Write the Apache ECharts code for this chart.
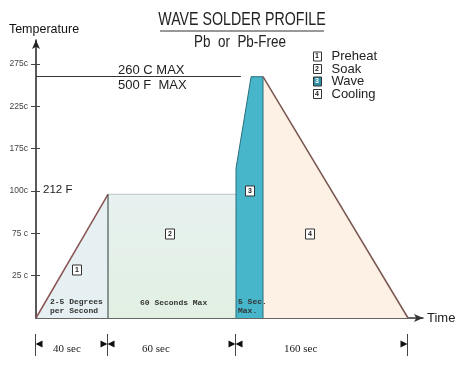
<!DOCTYPE html>
<html><head><meta charset="utf-8">
<script src="https://cdn.jsdelivr.net/npm/echarts@6/dist/echarts.min.js"></script>
<style>html,body{margin:0;padding:0;background:#fff}#c{width:470px;height:365px}</style>
</head><body><div id="c"></div>
<script>
// ---- data ----
const yTickTemps = [0, 25, 75, 100, 175, 225, 275];
const yTickLabels = ['', '25 c', '75 c', '100c', '175c', '225c', '275c'];
const stageNames = ['Preheat', 'Soak', 'Wave', 'Cooling'];
const preheatTime = [0, 40];
const preheatTemp = [0, 98];
const soakTime = [40, 100];
const soakTemp = [98, 98];
const waveTime = [100, 100, 102.8, 105, 105];
const waveTemp = [0, 140, 260, 260, 0];
const coolTime = [105, 260];
const coolTemp = [260, 0];
const maxTemp = 260;
const maxArrowEndTime = 100.9;
const segmentBounds = [0, 40, 100, 260];
const segmentLabels = ['40 sec', '60 sec', '160 sec'];
// the drawing is not to time scale: piecewise time -> axis units
const xBreakTime = [0, 40, 100, 105, 260];
const xBreakUnit = [0, 72, 200, 227, 372];

function interp(v, xs, ys) {
  for (let i = 1; i < xs.length; i++) {
    if (v <= xs[i]) {
      const t = (v - xs[i - 1]) / (xs[i] - xs[i - 1]);
      return ys[i - 1] + t * (ys[i] - ys[i - 1]);
    }
  }
  return ys[ys.length - 1];
}
const tickIdx = yTickTemps.map((_, i) => i);
const X = t => interp(t, xBreakTime, xBreakUnit);
const Y = c => interp(c, yTickTemps, tickIdx);
const pts = (ts, cs) => ts.map((t, i) => [X(t), Y(cs[i])]);

const chart = echarts.init(document.getElementById('c'));
const F = 'Liberation Sans, Arial, sans-serif';
const lineSeries = (name, data, lineColor, lineWidth, area) => ({
  name, type: 'line', data, symbol: 'none', silent: true,
  lineStyle: { color: lineColor, width: lineWidth },
  itemStyle: { color: lineColor },
  areaStyle: area ? { color: area, opacity: 1 } : undefined,
  z: 2
});

chart.setOption({
  animation: false,
  grid: { left: 36, right: 47, top: 40, bottom: 47 },
  xAxis: {
    type: 'value', min: 0, max: 387,
    splitLine: { show: false }, axisTick: { show: false }, axisLabel: { show: false },
    axisLine: { lineStyle: { color: '#333', width: 1.5 }, symbol: ['none', 'arrow'], symbolSize: [6, 9] },
    name: 'Time', nameLocation: 'end', nameGap: 4,
    nameTextStyle: { fontFamily: F, fontSize: 13, color: '#222', padding: [0, 0, 4, 0] }
  },
  yAxis: [{
    type: 'value', min: 0, max: 6.567, interval: 1,
    splitLine: { show: false },
    axisLine: { lineStyle: { color: '#222', width: 1.5 }, symbol: ['none', 'arrow'], symbolSize: [6, 9] },
    axisTick: { length: 5, lineStyle: { color: '#444' }, customValues: [1, 2, 3, 4, 5, 6] },
    axisLabel: { margin: 8, fontFamily: F, fontSize: 8.5, color: '#444',
      customValues: [1, 2, 3, 4, 5, 6], formatter: v => yTickLabels[Math.round(v)] },
    name: 'Temperature', nameLocation: 'end', nameGap: 4,
    nameTextStyle: { fontFamily: F, fontSize: 12.5, color: '#111', align: 'center', padding: [0, 0, 0, 16] }
  }, {
    type: 'value', min: 0, max: 6.567, interval: 1, position: 'left',
    splitLine: { show: false }, axisLine: { show: false }, axisLabel: { show: false },
    axisTick: { inside: true, length: 4, lineStyle: { color: '#444' }, customValues: [1, 2, 3, 4, 5, 6] }
  }],
  legend: {
    orient: 'vertical', left: 308, top: 45, itemWidth: 8, itemHeight: 9, itemGap: -0.5,
    selectedMode: false, icon: 'rect',
    textStyle: { fontFamily: F, fontSize: 13, color: '#222', padding: [0, 0, 0, 5] },
    data: [
      { name: stageNames[0], itemStyle: { color: '#fff', borderColor: '#333', borderWidth: 1 } },
      { name: stageNames[1], itemStyle: { color: '#fff', borderColor: '#333', borderWidth: 1 } },
      { name: stageNames[2], itemStyle: { color: '#2f8fa6', borderColor: '#333', borderWidth: 1 } },
      { name: stageNames[3], itemStyle: { color: '#fff', borderColor: '#333', borderWidth: 1 } }
    ]
  },
  series: [
    lineSeries(stageNames[0], pts(preheatTime, preheatTemp), '#8a5454', 1.5, '#e6f0f2'),
    lineSeries(stageNames[1], pts(soakTime, soakTemp), '#c5cfcc', 1.2,
      new echarts.graphic.LinearGradient(0, 0, 0, 1, [{ offset: 0, color: '#e7f1f0' }, { offset: 1, color: '#e2f0e2' }])),
    lineSeries(stageNames[2], pts(waveTime, waveTemp), '#2b6f7c', 1, '#47b6ca'),
    lineSeries(stageNames[3], pts(coolTime, coolTemp), '#7a5650', 1.5, '#fdf0e4'),
    lineSeries('sep', pts([soakTime[0], soakTime[0]], [0, soakTemp[0]]), '#2f3b3b', 1, null),
    {
      name: 'max', type: 'line', data: [], silent: true,
      markLine: {
        silent: true, symbol: ['none', 'arrow'], symbolSize: [0, 8], label: { show: false },
        lineStyle: { color: '#333', width: 1, type: 'solid' },
        data: [[{ coord: [X(0), Y(maxTemp)] }, { coord: [X(maxArrowEndTime), Y(maxTemp)] }]]
      }
    }
  ]
});

// ---- annotations ----
const g = [];
const txt = (x, y, text, font, color, align, extra) => Object.assign({
  type: 'text', x, y, z: 10,
  style: { text, x: 0, y: 0, font, fill: color || '#222', textAlign: align || 'left', textVerticalAlign: 'middle' }
}, extra || {});
g.push(txt(242, 20, 'WAVE SOLDER PROFILE', '18px ' + F, '#222', 'center', { scaleX: 0.79 }));
g.push({ type: 'line', z: 10, shape: { x1: 160, y1: 31, x2: 324, y2: 31 }, style: { stroke: '#333', lineWidth: 1 } });
g.push(txt(240, 42, 'Pb  or  Pb-Free', '17px ' + F, '#222', 'center', { scaleX: 0.79 }));
g.push(txt(118, 70, '260 C MAX', '13px ' + F, '#222'));
g.push(txt(118, 85, '500 F  MAX', '13px ' + F, '#222'));
g.push(txt(43, 190, '212 F', '11.5px ' + F, '#222'));
const box = (cx, cy, d, fill) => {
  g.push({ type: 'rect', z: 11, shape: { x: cx - 4.5, y: cy - 5, width: 9, height: 10 }, style: { fill: fill || '#fff', stroke: '#333', lineWidth: 1 } });
  g.push(txt(cx, cy + 0.5, d, 'bold 7px ' + F, '#222', 'center', { z: 12 }));
};
[56, 68.5, 81, 93.5].forEach((y, i) => g.push(txt(317, y + 0.5, String(i + 1), 'bold 7px ' + F, i === 2 ? '#fff' : '#222', 'center', { z: 12 })));
box(77, 270, '1'); box(170, 234, '2'); box(250, 191, '3'); box(310, 234, '4');
const M = 'bold 8px Liberation Mono, Courier New, monospace';
g.push(txt(50, 302, '2-5 Degrees', M, '#333'));
g.push(txt(50, 311, 'per Second', M, '#333'));
g.push(txt(140, 303, '60 Seconds Max', M, '#333'));
g.push(txt(238, 302, '5 Sec.', M, '#333'));
g.push(txt(238, 311, 'Max.', M, '#333'));

// bottom segment markers, placed from the data scale
const by = 344;
segmentBounds.forEach((t, i) => {
  const px = Math.round(chart.convertToPixel({ xAxisIndex: 0 }, X(t))) - 0.5;
  g.push({ type: 'line', z: 10, shape: { x1: px, y1: 334, x2: px, y2: 356 }, style: { stroke: '#444', lineWidth: 1 } });
  if (i > 0) g.push({ type: 'polygon', z: 10, shape: { points: [[px - 7, by - 3.5], [px, by], [px - 7, by + 3.5]] }, style: { fill: '#111' } });
  if (i < segmentBounds.length - 1) g.push({ type: 'polygon', z: 10, shape: { points: [[px + 7, by - 3.5], [px, by], [px + 7, by + 3.5]] }, style: { fill: '#111' } });
});
const SF = '11px Liberation Serif, Times New Roman, serif';
[53, 142, 284].forEach((x, i) => g.push(txt(x, 349, segmentLabels[i], SF, '#222')));

chart.setOption({ graphic: g });
</script>
</body></html>
